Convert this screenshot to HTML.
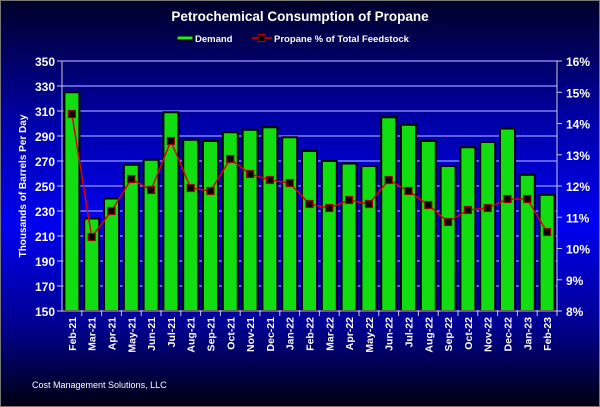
<!DOCTYPE html>
<html><head><meta charset="utf-8"><style>
html,body{margin:0;padding:0;width:600px;height:407px;overflow:hidden;background:#000}
svg{display:block}
text{font-family:"Liberation Sans",Arial,sans-serif;font-weight:bold;fill:#fff}
.b{fill:#11dd11;stroke:#000;stroke-width:2}
.h{fill:#44ff44}
</style></head><body>
<svg id="s" width="600" height="407" xmlns="http://www.w3.org/2000/svg">
<defs>
<linearGradient id="bg" x1="0" y1="0" x2="0" y2="1">
<stop offset="0" stop-color="#000028"/><stop offset="0.3" stop-color="#0000a8"/><stop offset="0.55" stop-color="#0000f0"/><stop offset="0.8" stop-color="#000090"/><stop offset="1" stop-color="#000010"/>
</linearGradient>
</defs>
<rect x="0" y="0" width="600" height="407" fill="url(#bg)" stroke="#777" stroke-width="2"/>
<text x="300" y="21" text-anchor="middle" font-size="13.5">Petrochemical Consumption of Propane</text>
<rect x="177" y="36" width="16" height="4" fill="#22ee22" stroke="#000"/>
<text x="195" y="42" font-size="9.5">Demand</text>
<line x1="252" y1="38" x2="272" y2="38" stroke="#d00" stroke-width="1.5"/>
<rect x="258" y="34.5" width="7" height="7" fill="#000" stroke="#b00"/>
<text x="274" y="42" font-size="9.5">Propane % of Total Feedstock</text>
<g id="grid"></g>
<g>
<rect class="b" x="64.4" y="92.25" width="15" height="218.75"/>
<rect class="b" x="84.2" y="218.5" width="15" height="92.5"/>
<rect class="b" x="104" y="198.5" width="15" height="112.5"/>
<rect class="b" x="123.8" y="164.75" width="15" height="146.25"/>
<rect class="b" x="143.6" y="159.75" width="15" height="151.25"/>
<rect class="b" x="163.4" y="112.25" width="15" height="198.75"/>
<rect class="b" x="183.2" y="139.75" width="15" height="171.25"/>
<rect class="b" x="203" y="141" width="15" height="170"/>
<rect class="b" x="222.8" y="132.25" width="15" height="178.75"/>
<rect class="b" x="242.6" y="129.75" width="15" height="181.25"/>
<rect class="b" x="262.4" y="127.25" width="15" height="183.75"/>
<rect class="b" x="282.2" y="137.25" width="15" height="173.75"/>
<rect class="b" x="302" y="151" width="15" height="160"/>
<rect class="b" x="321.8" y="161" width="15" height="150"/>
<rect class="b" x="341.6" y="163.5" width="15" height="147.5"/>
<rect class="b" x="361.4" y="166" width="15" height="145"/>
<rect class="b" x="381.2" y="117.25" width="15" height="193.75"/>
<rect class="b" x="401" y="124.75" width="15" height="186.25"/>
<rect class="b" x="420.8" y="141" width="15" height="170"/>
<rect class="b" x="440.6" y="166" width="15" height="145"/>
<rect class="b" x="460.4" y="147.25" width="15" height="163.75"/>
<rect class="b" x="480.2" y="142" width="15" height="169"/>
<rect class="b" x="500" y="128.5" width="15" height="182.5"/>
<rect class="b" x="519.8" y="174.75" width="15" height="136.25"/>
<rect class="b" x="539.6" y="194.75" width="15" height="116.25"/>
</g>
<g id="line"></g>
<text transform="translate(26,186) rotate(-90)" text-anchor="middle" font-size="10">Thousands of Barrels Per Day</text>
<text x="32" y="388" font-size="9" style="font-weight:normal">Cost Management Solutions, LLC</text>
</svg>
<script>
var NS="http://www.w3.org/2000/svg";
function el(p,t,a,tx){var e=document.createElementNS(NS,t);for(var k in a)e.setAttribute(k,a[k]);if(tx)e.textContent=tx;document.getElementById(p).appendChild(e);return e;}
var L=62,R=557,T=61,B=311;
for(var i=0;i<=10;i++){var y=T+i*25;
 el("grid","line",{x1:L,x2:R,y1:y,y2:y,stroke:"#9a9aff","stroke-width":1.2});
 el("grid","line",{x1:L-5,x2:L,y1:y,y2:y,stroke:"#ccc"});
 el("grid","text",{x:L-7,y:y+5,"text-anchor":"end","font-size":12},String(350-i*20));
}
for(var i=0;i<=8;i++){var y=T+i*31.25;
 el("grid","line",{x1:R,x2:R+5,y1:y,y2:y,stroke:"#ccc"});
 el("grid","text",{x:R+9,y:y+5,"font-size":12},(16-i)+"%");
}
el("grid","line",{x1:L,x2:L,y1:T,y2:B,stroke:"#ccc"});
el("grid","line",{x1:R,x2:R,y1:T,y2:B,stroke:"#ccc"});
var lab=["Feb-21","Mar-21","Apr-21","May-21","Jun-21","Jul-21","Aug-21","Sep-21","Oct-21","Nov-21","Dec-21","Jan-22","Feb-22","Mar-22","Apr-22","May-22","Jun-22","Jul-22","Aug-22","Sep-22","Oct-22","Nov-22","Dec-22","Jan-23","Feb-23"];
var py=[114,237,211,179,190,141,188,191,159,174,180,183,204,208,200,204,180,191,205,222,210,208,199,199,232];
var sp=(R-L)/25;var pts=[];
for(var i=0;i<25;i++){var cx=L+sp*(i+0.5);
 el("grid","line",{x1:L+sp*(i+1),x2:L+sp*(i+1),y1:B,y2:B+5,stroke:"#ccc"});
 el("grid","text",{transform:"translate("+(cx+4)+","+(B+6)+") rotate(-90)","text-anchor":"end","font-size":10.5},lab[i]);
 pts.push(cx+","+py[i]);
}
el("line","polyline",{points:pts.join(" "),fill:"none",stroke:"#e00000","stroke-width":1.5});
for(var i=0;i<25;i++){var cx=L+sp*(i+0.5);el("line","rect",{x:cx-3.5,y:py[i]-3.5,width:7,height:7,fill:"#000",stroke:"#a00000","stroke-width":1.2});}
el("line","line",{x1:L,x2:R,y1:B,y2:B,stroke:"#ccc"});
</script>
</body></html>
